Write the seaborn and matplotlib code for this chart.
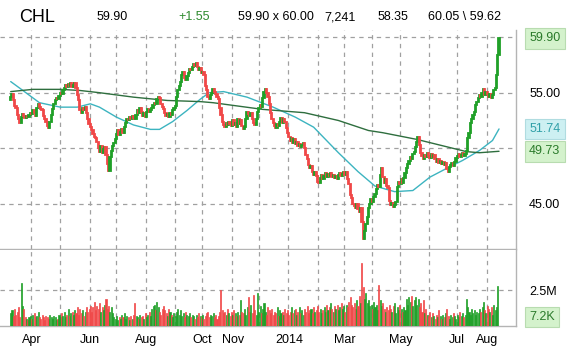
import numpy as np
import pandas as pd
import matplotlib
matplotlib.use("Agg")
import matplotlib.pyplot as plt
import seaborn as sns

sns.set_theme(style="white")
plt.rcParams['font.family'] = ['Liberation Sans', 'DejaVu Sans']

# ---------------- data ----------------
start_date = "2013-03-08"
first_open = 54.3
close = [
    54.6, 54.9, 54.3, 53.8, 53.6, 53.0, 52.6, 52.3, 52.8, 53.1,
    52.9, 52.7, 52.9, 52.8, 53.0, 53.2, 53.1, 53.4, 53.2, 52.9,
    53.6, 54.0, 53.7, 53.5, 53.4, 52.9, 52.6, 52.4, 52.0, 51.8,
    52.4, 53.0, 53.5, 54.0, 54.3, 54.5, 54.4, 54.7, 55.0, 54.9,
    55.2, 55.4, 55.7, 55.5, 55.8, 55.6, 55.9, 55.5, 55.7, 55.9,
    55.4, 54.8, 54.3, 53.4, 53.2, 53.6, 53.4, 53.7, 53.2, 52.6,
    52.2, 51.9, 51.6, 51.3, 51.0, 50.9, 50.6, 50.0, 49.7, 50.2,
    49.6, 49.9, 50.1, 49.4, 48.6, 48.0, 49.2, 49.8, 50.2, 50.5,
    50.8, 51.3, 51.6, 51.2, 51.5, 51.7, 51.4, 51.9, 52.3, 52.6,
    52.5, 52.8, 52.6, 52.9, 52.7, 52.6, 53.0, 53.4, 53.2, 53.6,
    53.3, 52.9, 53.2, 52.8, 53.3, 53.5, 53.3, 53.4, 53.6, 53.9,
    54.1, 54.0, 54.4, 54.6, 54.5, 54.0, 53.7, 53.5, 53.2, 52.9,
    53.1, 52.8, 53.2, 53.0, 53.4, 53.6, 53.8, 54.6, 55.2, 55.6,
    56.0, 56.6, 56.9, 56.3, 56.1, 56.5, 56.8, 57.1, 57.0, 57.3,
    57.6, 57.4, 57.7, 57.3, 57.0, 57.2, 56.8, 56.9, 56.6, 55.6,
    55.2, 54.6, 54.4, 54.8, 55.0, 55.3, 55.1, 54.9, 54.6, 54.4,
    53.6, 53.0, 52.4, 52.1, 51.9, 52.3, 52.1, 52.4, 52.2, 52.0,
    52.5, 52.1, 52.3, 51.9, 52.6, 52.2, 52.5, 52.0, 51.7, 51.9,
    52.6, 53.3, 53.1, 52.9, 53.2, 52.6, 52.3, 52.1, 52.6, 53.3,
    53.6, 53.9, 53.7, 54.5, 55.1, 55.3, 55.0, 54.6, 54.0, 53.2,
    52.6, 52.3, 52.0, 51.8, 52.2, 52.0, 52.4, 52.7, 52.3, 52.6,
    52.4, 51.8, 51.4, 51.0, 50.7, 50.9, 50.5, 50.8, 50.4, 50.6,
    50.2, 50.4, 50.1, 50.3, 50.5, 50.0, 49.4, 49.0, 48.5, 48.2,
    48.4, 47.9, 47.6, 47.9, 47.5, 47.0, 46.9, 47.3, 47.6, 47.2,
    47.5, 47.8, 47.4, 47.7, 47.5, 47.8, 47.4, 47.6, 47.3, 47.5,
    47.2, 47.6, 47.8, 47.5, 47.7, 47.9, 47.6, 47.9, 47.2, 46.8,
    45.8, 45.5, 45.0, 44.8, 44.6, 45.0, 44.5, 44.3, 44.6, 43.4,
    41.8, 42.6, 43.2, 43.8, 44.6, 45.0, 45.4, 45.2, 45.6, 45.9,
    46.3, 46.7, 46.5, 47.6, 48.2, 47.4, 46.9, 47.2, 46.6, 46.4,
    45.3, 44.9, 45.1, 44.7, 44.9, 45.2, 46.5, 47.0, 46.8, 47.2,
    46.9, 47.3, 47.8, 48.2, 48.6, 48.9, 49.2, 49.0, 49.5, 49.7,
    50.1, 50.6, 51.0, 50.3, 49.6, 49.3, 49.0, 49.4, 49.2, 49.6,
    49.3, 49.1, 49.5, 49.2, 49.4, 49.0, 48.8, 49.0, 48.7, 48.9,
    48.6, 48.8, 48.5, 48.7, 48.1, 47.9, 48.3, 48.5, 48.7, 48.4,
    48.8, 49.1, 49.3, 49.5, 49.2, 49.4, 49.6, 49.3, 49.5, 49.8,
    50.9, 51.4, 52.3, 52.6, 53.0, 53.3, 53.9, 54.2, 54.5, 54.8,
    54.6, 55.0, 55.3, 54.8, 55.1, 54.9, 54.6, 54.9, 54.5, 54.8,
    55.2, 55.4, 56.6, 58.35, 59.90,
]
volume_m = [
    0.9, 1.1, 0.7, 1.2, 0.8, 1.0, 1.3, 0.6, 3.0, 1.4,
    1.2, 0.6, 0.5, 0.4, 0.6, 0.7, 0.5, 0.8, 0.9, 0.6,
    0.7, 1.0, 0.6, 0.5, 0.8, 0.6, 0.4, 0.7, 0.6, 0.5,
    0.8, 0.6, 0.5, 0.7, 0.6, 0.4, 0.5, 0.8, 0.6, 0.9,
    0.7, 1.0, 0.6, 0.8, 1.2, 0.7, 0.9, 1.0, 0.8, 1.1,
    0.9, 1.3, 0.8, 1.2, 0.9, 1.1, 0.7, 1.0, 1.3, 1.0,
    1.2, 1.4, 1.0, 1.3, 1.7, 1.1, 1.4, 1.2, 1.6, 1.0,
    1.3, 1.1, 1.5, 1.9, 1.2, 1.4, 1.0, 1.3, 0.9, 0.6,
    0.5, 0.7, 0.4, 0.6, 0.5, 0.8, 0.6, 0.9, 0.5, 0.7,
    0.6, 0.4, 0.7, 0.5, 0.8, 1.6, 0.7, 0.6, 0.5, 0.8,
    0.6, 0.7, 0.5, 0.9, 0.6, 0.8, 1.0, 0.7, 1.2, 1.4,
    1.5, 1.1, 1.7, 1.3, 1.0, 0.8, 1.2, 1.4, 1.1, 0.9,
    0.7, 1.2, 1.0, 0.8, 0.6, 0.9, 0.7, 1.0, 1.2, 0.8,
    1.1, 0.7, 0.9, 0.6, 1.0, 0.8, 0.7, 0.9, 0.6, 0.8,
    0.7, 0.5, 0.8, 0.6, 0.9, 0.7, 0.6, 0.8, 0.5, 0.7,
    0.9, 1.0, 0.6, 0.8, 0.7, 0.9, 0.6, 0.8, 0.5, 0.7,
    1.0, 2.5, 1.1, 0.9, 1.0, 0.8, 1.2, 0.9, 0.7, 1.0,
    0.8, 1.1, 0.9, 0.7, 1.0, 0.8, 1.8, 1.0, 0.9, 1.2,
    0.8, 1.3, 2.0, 1.0, 1.5, 0.9, 2.2, 1.1, 0.8, 2.3,
    1.0, 1.4, 0.9, 1.2, 1.6, 1.0, 0.8, 1.3, 1.1, 0.9,
    1.2, 0.8, 1.0, 0.9, 1.3, 0.7, 1.1, 0.9, 1.0, 0.8,
    1.2, 0.9, 1.1, 0.8, 1.0, 1.3, 0.9, 1.1, 1.2, 0.8,
    1.0, 1.3, 0.9, 1.1, 0.8, 1.2, 1.0, 1.4, 0.9, 1.1,
    1.2, 0.9, 1.3, 1.0, 1.1, 1.4, 1.0, 1.2, 0.9, 1.1,
    1.3, 1.0, 1.5, 1.1, 1.3, 1.6, 1.2, 1.0, 1.4, 1.2,
    1.5, 1.1, 1.3, 1.6, 1.2, 1.4, 1.0, 1.5, 1.3, 1.7,
    2.0, 1.5, 1.3, 1.6, 1.2, 1.8, 1.4, 2.1, 1.6, 4.4,
    2.7, 1.9, 2.3, 1.6, 1.8, 1.4, 1.5, 1.2, 1.7, 1.3,
    1.5, 1.1, 2.9, 1.8, 1.4, 1.6, 1.2, 1.0, 1.3, 1.1,
    1.5, 1.2, 1.0, 1.4, 1.6, 0.9, 1.3, 1.1, 1.5, 1.2,
    1.0, 1.3, 1.1, 1.9, 1.5, 2.0, 1.7, 2.1, 1.4, 1.8,
    2.0, 1.5, 1.9, 1.3, 1.6, 1.0, 1.8, 0.9, 1.2, 0.8,
    0.7, 1.0, 0.6, 0.9, 0.7, 0.5, 0.8, 0.6, 1.1, 0.7,
    0.5, 0.8, 0.6, 0.9, 1.2, 0.7, 0.5, 0.8, 0.6, 0.9,
    0.7, 0.5, 0.8, 0.6, 1.0, 0.7, 0.9, 0.6, 0.8, 1.9,
    1.3, 1.0, 0.8, 1.2, 0.9, 1.1, 0.8, 1.0, 0.9, 1.2,
    1.0, 1.3, 1.7, 1.1, 0.9, 1.4, 1.2, 1.0, 1.3, 0.8,
    1.5, 1.1, 1.3, 2.8, 0.0072,
]
ma_fast_day = [0, 7, 22, 38, 51, 61, 68, 81, 94, 107, 114, 124, 135, 145, 152, 163,
               181, 201, 218, 232, 251, 266, 279, 294, 308, 321, 334, 346, 359, 369, 374]
ma_fast_val = [56.0, 55.4, 54.1, 53.7, 53.7, 54.0, 53.7, 52.8, 52.1, 51.7, 51.7, 52.4,
               53.4, 54.4, 55.0, 55.1, 54.6, 53.7, 52.8, 51.9, 49.6, 47.9, 46.6, 46.1,
               46.2, 47.4, 48.2, 48.9, 49.8, 50.7, 51.74]
ma_slow_day = [0, 17, 38, 53, 68, 94, 120, 145, 155, 193, 225, 251, 274, 285, 311, 349, 359, 374]
ma_slow_val = [55.1, 55.3, 55.3, 55.2, 55.0, 54.6, 54.3, 54.2, 54.1, 53.5, 53.2, 52.5,
               51.6, 51.4, 50.8, 49.7, 49.6, 49.73]

label_months = ["2013-04", "2013-06", "2013-08", "2013-10", "2013-11",
                "2014-01", "2014-03", "2014-05", "2014-07", "2014-08"]
label_texts = ["Apr", "Jun", "Aug", "Oct", "Nov", "2014", "Mar", "May", "Jul", "Aug"]

header = [("CHL", 19, "#000000", 13), ("59.90", 97, "#000000", 9),
          ("+1.55", 178, "#2e8b2e", 9), ("59.90 x 60.00", 238, "#000000", 9),
          ("7,241", 324, "#000000", 9), ("58.35", 378, "#000000", 9),
          ("60.05 \\ 59.62", 428, "#000000", 9)]

# ---------------- frame ----------------
n = len(close)
dates = pd.bdate_range(start_date, periods=n)
opens = [first_open] + close[:-1]
df = pd.DataFrame({"day": np.arange(n), "open": opens, "close": close,
                   "vol": np.array(volume_m) * 1e6, "date": dates})
up = df["close"] >= df["open"]
GREEN, RED = "#20a028", "#f04848"
df["color"] = np.where(up, GREEN, RED)

month_start = [i for i in range(1, n) if dates[i].month != dates[i - 1].month]
lab_pos = []
for m in label_months:
    idx = [i for i in month_start if dates[i].strftime("%Y-%m") == m]
    lab_pos.append(idx[0])

W, H = 570, 352
fig = plt.figure(figsize=(W / 100, H / 100), dpi=100)
axp = fig.add_axes([0, 1 - 249 / H, 516 / W, (249 - 30) / H])
axv = fig.add_axes([0, 1 - 326 / H, 516 / W, (326 - 250) / H])

GRID = dict(color="#a0a0a0", lw=0.9, ls=(0, (3.5, 3.5)), zorder=0)
for ax in (axp, axv):
    ax.set_facecolor("white")
    for i in month_start:
        ax.axvline(i - 0.5, **GRID)
    ax.set_xlim(-8.2, 387)
    for s in ("top", "left"):
        ax.spines[s].set_visible(False)
    for s in ("right", "bottom"):
        ax.spines[s].set_color("#b4b4b4")
        ax.spines[s].set_linewidth(1.0)
    ax.yaxis.tick_right()
    ax.tick_params(axis="both", length=0, labelsize=9, colors="#000000")

for lv in (45, 50, 55, 60):
    axp.axhline(lv, **GRID)
axv.axhline(2.5e6, **GRID)

# candles
axp.bar(df["day"], df["close"] - df["open"], bottom=df["open"], width=0.9,
        color=df["color"], edgecolor=df["color"], linewidth=1.3, zorder=3)
sns.lineplot(x=ma_fast_day, y=ma_fast_val, ax=axp, color="#3cb4c0", lw=1.0, zorder=2)
sns.lineplot(x=ma_slow_day, y=ma_slow_val, ax=axp, color="#2e6e3e", lw=1.0, zorder=2)

axp.set_ylim(40.94, 60.64)
axp.set_yticks([45, 55])
axp.set_yticklabels(["45.00", "55.00"])
axp.tick_params(axis="y", pad=9.4)
axp.set_xticks([])
axp.set_xlabel("")
axp.set_ylabel("")

def box_label(ax, val, text, fc, ec, tc):
    ax.annotate(text, xy=(1, val), xycoords=ax.get_yaxis_transform(),
                xytext=(9.4, 0), textcoords="offset points", ha="left", va="center",
                fontsize=9, color=tc, annotation_clip=False,
                bbox=dict(boxstyle="square,pad=0.35", fc=fc, ec=ec, lw=0.8))

box_label(axp, close[-1], f"{close[-1]:.2f}", "#d4f2cc", "#b8dcb0", "#2a7a2a")
box_label(axp, ma_fast_val[-1], f"{ma_fast_val[-1]:.2f}", "#cdf0f2", "#b0dce0", "#30a0a8")
box_label(axp, ma_slow_val[-1], f"{ma_slow_val[-1]:.2f}", "#d4f2cc", "#b8dcb0", "#2a7a2a")

# volume
axv.bar(df["day"], df["vol"], width=0.8, color=df["color"], edgecolor=df["color"],
        linewidth=0.5, zorder=3)
axv.set_ylim(0, 5.32e6)
axv.set_yticks([2.5e6])
axv.set_yticklabels(["2.5M"])
axv.tick_params(axis="y", pad=9.4)
axv.set_xticks(lab_pos)
axv.set_xticklabels(label_texts)
axv.tick_params(axis="x", pad=6)
axv.annotate("7.2K", xy=(1, 0.12), xycoords="axes fraction", xytext=(9.4, 0),
             textcoords="offset points", ha="left", va="center", fontsize=9,
             color="#2a7a2a", annotation_clip=False,
             bbox=dict(boxstyle="square,pad=0.35", fc="#d4f2cc", ec="#b8dcb0", lw=0.8))

for text, x, c, fs in header:
    fig.text(x / W, 1 - 17 / H, text, ha="left", va="center", fontsize=fs, color=c)

fig.savefig("out.png", dpi=100, facecolor="white")
